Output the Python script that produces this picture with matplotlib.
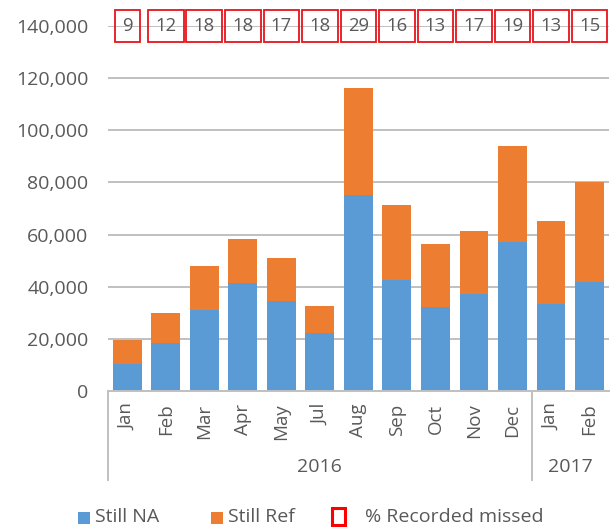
import matplotlib.pyplot as plt
from matplotlib.patches import Rectangle
from matplotlib.transforms import blended_transform_factory

plt.rcParams['font.family'] = ['Open Sans', 'DejaVu Sans']

months = ['Jan', 'Feb', 'Mar', 'Apr', 'May', 'Jul', 'Aug', 'Sep', 'Oct', 'Nov', 'Dec', 'Jan', 'Feb']
years = ['2016', '2017']
year_counts = [11, 2]
still_na = [10500, 18600, 31000, 41300, 34400, 22400, 75000, 42600, 32300, 37300, 57000, 33500, 41900]
totals = [19500, 30000, 48000, 58400, 51200, 32500, 116100, 71300, 56500, 61400, 94000, 65400, 80000]
still_ref = [t - n for t, n in zip(totals, still_na)]
pct_missed = [9, 12, 18, 18, 17, 18, 29, 16, 13, 17, 19, 13, 15]
legend_labels = ['Still NA', 'Still Ref', '% Recorded missed']

blue = '#5b9bd5'
orange = '#ed7d31'
red = '#e8141b'
grey = '#595959'
gridc = '#c0c0c0'

W, H = 610, 527
fig = plt.figure(figsize=(W / 100, H / 100), dpi=100)
ax = fig.add_axes([0.177, 0.258, 0.821, 0.6926])

x = list(range(len(months)))
ax.bar(x, still_na, width=0.75, color=blue, zorder=2)
ax.bar(x, still_ref, width=0.75, bottom=still_na, color=orange, zorder=2)

ax.set_xlim(-0.5, len(months) - 0.5)
ax.set_ylim(0, 140000)
ax.set_yticks(range(0, 140001, 20000))
ax.set_yticklabels([f'{v:,}' for v in range(0, 140001, 20000)], fontsize=14, color=grey)
ax.tick_params(axis='y', length=0, pad=14)
ax.grid(axis='y', color=gridc, lw=1.4, zorder=0)
for s in ['top', 'right', 'left']:
    ax.spines[s].set_visible(False)
ax.spines['bottom'].set_color(gridc)
ax.spines['bottom'].set_linewidth(1.4)

ax.set_xticks(x)
ax.set_xticklabels(months, rotation=90, fontsize=13.5, color=grey)
ax.tick_params(axis='x', length=0, pad=9)

# year groups under the months
tr = blended_transform_factory(ax.transData, ax.transAxes)
start = -0.5
for yr, n in zip(years, year_counts):
    ax.plot([start, start], [0, -0.245], transform=tr, color=gridc, lw=1.4, clip_on=False)
    ax.text(start + n / 2, -0.207, yr, transform=tr, ha='center', va='center',
            fontsize=14, color=grey)
    start += n

# % recorded missed boxes along the top line
for i, p in enumerate(pct_missed):
    ax.text(i, 140000, str(p), ha='center', va='center', fontsize=13.3, color=grey,
            clip_on=False, zorder=3,
            bbox=dict(boxstyle='square,pad=0.39', facecolor='none', edgecolor=red, lw=1.3))

# legend drawn in figure pixels
def fx(v):
    return v / W

def fy(v):
    return 1 - v / H

fig.add_artist(Rectangle((fx(78), fy(524)), 12 / W, 12 / H, transform=fig.transFigure,
                         facecolor=blue, edgecolor='none'))
fig.add_artist(Rectangle((fx(211), fy(524)), 12 / W, 12 / H, transform=fig.transFigure,
                         facecolor=orange, edgecolor='none'))
fig.add_artist(Rectangle((fx(332), fy(525)), 13 / W, 17 / H, transform=fig.transFigure,
                         facecolor='white', edgecolor='#ff0000', lw=2.2))
for xpos, lab in zip([95, 228, 365], legend_labels):
    fig.text(fx(xpos), fy(517), lab, ha='left', va='center', fontsize=14, color=grey)

fig.savefig('out.png', dpi=100)
